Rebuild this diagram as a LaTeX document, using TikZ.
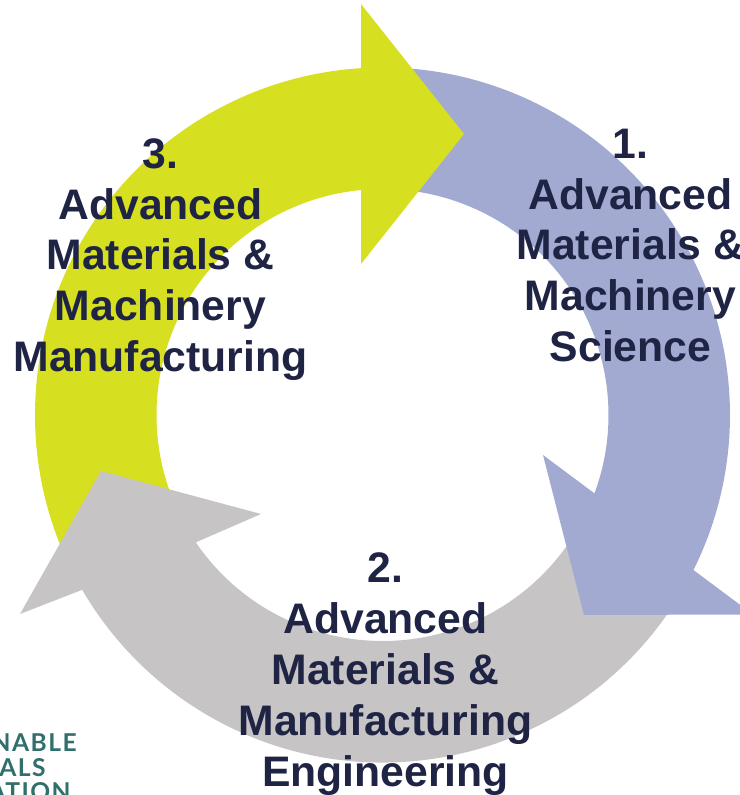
\documentclass[tikz,border=0pt]{standalone}
\usepackage{fontspec}
\setmainfont{Liberation Sans}
\newfontfamily\logofont[LetterSpace=6]{Lato}
\definecolor{ringyellow}{HTML}{D7DF21}
\definecolor{ringblue}{HTML}{A2AAD2}
\definecolor{ringgray}{HTML}{C6C4C5}
\definecolor{labelnavy}{HTML}{1F2444}
\definecolor{logoteal}{HTML}{2F6F6C}
\begin{document}
\begin{tikzpicture}[x=0.02cm, y=0.02cm]
    % Define styles
    \tikzset{
        steplabel/.style={font=\fontsize{24.3}{28.95}\selectfont\bfseries, text=labelnavy, align=center, inner sep=0pt},
        logoline/.style={font=\fontsize{14}{14}\selectfont\logofont\bfseries, text=logoteal, inner sep=0pt, anchor=base east}
    }
    
    % Page
    \useasboundingbox (0,0) rectangle (740,795);
    \clip (0,0) rectangle (740,795);
    
    % Ring
    \begin{scope}[shift={(382.5,380)}]
        % Yellow tail (under gray)
        \fill[ringyellow] (205:347.5) arc[start angle=205, end angle=93.5, radius=347.5]
            -- (95.3:226) arc[start angle=95.3, end angle=205, radius=226] -- cycle;
        % Gray arrow
        \fill[ringgray] (-30:347.5) arc[start angle=-30, end angle=-149.8, radius=347.5]
            -- (-362.5,-199) -- (-281.5,-56) -- (-121.5,-99)
            -- (-145.7:226) arc[start angle=-145.7, end angle=-30, radius=226] -- cycle;
        % Blue arrow
        \fill[ringblue] (86:347.5) arc[start angle=86, end angle=-26.5, radius=347.5]
            -- (370.5,-199.5) -- (201.5,-200) -- (160.5,-40)
            -- (-20.3:226) arc[start angle=-20.3, end angle=86, radius=226] -- cycle;
        % Yellow head (over blue)
        \fill[ringyellow] (-21.5,411) -- (81.5,281) -- (-21.5,151) -- cycle;
    \end{scope}
    
    % Labels
    \node[steplabel] (science) at (630.5,549.5) {1.\\Advanced\\Materials \&\\Machinery\\Science};
    \node[steplabel] (engineering) at (385.5,121) {2.\\Advanced\\Materials \&\\Manufacturing\\Engineering};
    \node[steplabel] (manufacturing) at (160.5,535.5) {3.\\Advanced\\Materials \&\\Machinery\\Manufacturing};
    
    % Logo
    \node[logoline] (logoa) at (77,43) {NABLE};
    \node[logoline] (logob) at (46,18) {ALS};
    \node[logoline] (logoc) at (71,-6) {ATION};
    
\end{tikzpicture}
\end{document}
